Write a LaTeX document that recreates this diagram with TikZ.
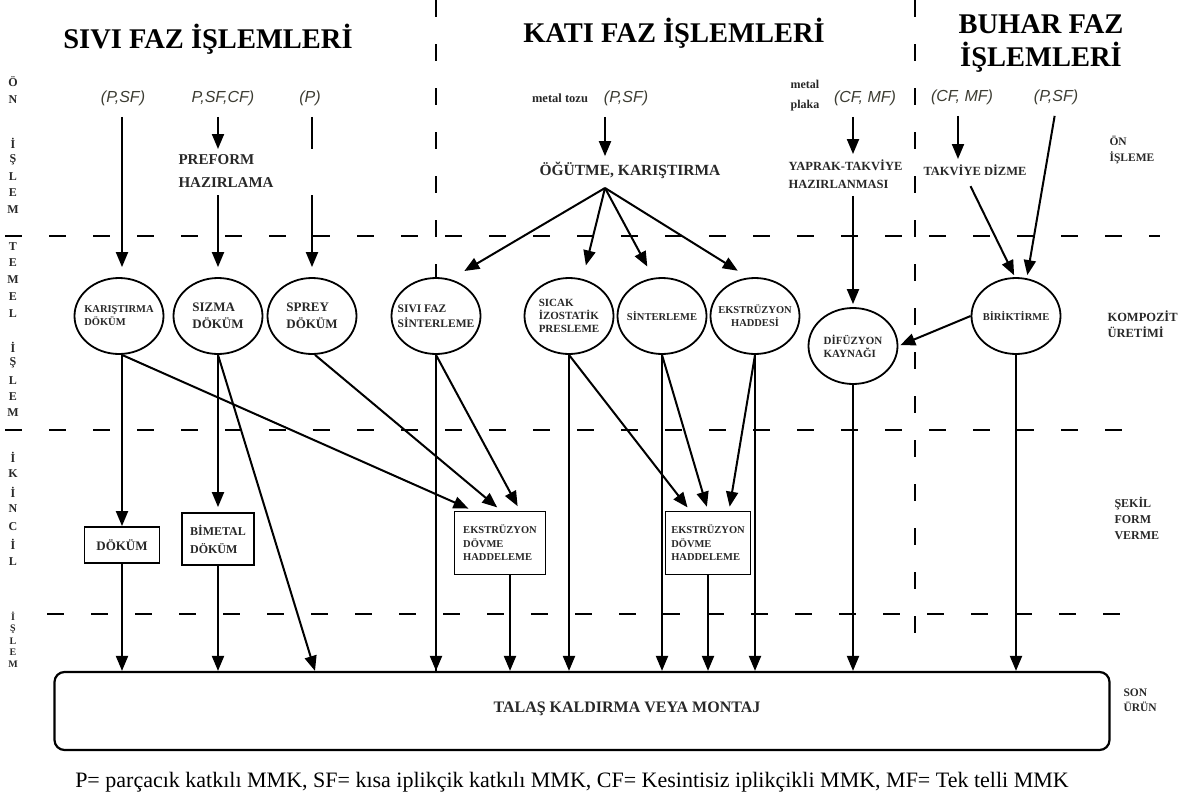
\documentclass[tikz,border=0pt]{standalone}
\usepackage{fontspec}
\setmainfont{Liberation Serif}
\newfontfamily\lblfont{Liberation Sans}
\usetikzlibrary{arrows.meta,shapes.geometric}

\definecolor{lblgray}{RGB}{60,60,50}
\definecolor{txtgray}{RGB}{40,40,40}
\newcommand{\fsz}[2]{\fontsize{#1}{#2}\selectfont}

\tikzset{
  arr/.style={line width=2pt, -{Triangle[length=15pt,width=12pt]}},
  link/.style={line width=2pt},
  sep/.style={line width=2pt, dash pattern=on 17pt off 27pt},
  proc/.style={ellipse, draw, fill=white, line width=1.8pt, minimum width=89pt, minimum height=76pt,
    inner xsep=-30pt, inner ysep=-14pt, align=left, text=txtgray},
  stage/.style={draw, fill=white, line width=1.8pt, align=left, inner sep=2pt, text=txtgray},
  lbl/.style={font=\lblfont\itshape\fsz{16}{18}, text=lblgray},
  side/.style={font=\bfseries\fsz{12}{12}, text=txtgray},
  head/.style={font=\bfseries\fsz{28.5}{33}, align=center},
  note/.style={font=\bfseries\fsz{12.5}{17}, align=left, text=txtgray},
}

\begin{document}
\begin{tikzpicture}[x=1pt, y=-1pt]
\useasboundingbox (0,0) rectangle (1194,798);

% stage borders
\draw[sep] (5,236) -- (1160,236);
\draw[sep] (5,430) -- (1145,430);
\draw[sep] (47,614) -- (1145,614);
\draw[sep] (436,0) -- (436,672);
\draw[sep] (915,0) -- (915,652);

% headings
\node[head] (hsivi) at (208,39) {SIVI FAZ İŞLEMLERİ};
\node[head] (hkati) at (674,33) {KATI FAZ İŞLEMLERİ};
\node[head] (hbuhar) at (1041,44) {BUHAR FAZ\\İŞLEMLERİ};

% letters on the left
\foreach \ch/\yy in {Ö/82,N/100,İ/143,Ş/160,L/177,E/193,M/210,
    T/247,E/263,M/280,E/297,L/314,İ/347,Ş/363,L/381,E/397,M/413,
    İ/457,K/474,İ/492,N/509,C/527,İ/544,L/562}
  \node[side] (s\yy) at (13,\yy) {\ch};
\foreach \ch/\yy in {İ/616,Ş/629,L/641,E/652,M/664}
  \node[side, font=\bfseries\fsz{10}{10}] (s\yy) at (13,\yy) {\ch};

% stage names on the right
\node[note, anchor=west, font=\bfseries\fsz{11.5}{16}] (onis) at (1106,150) {ÖN\\İŞLEME};
\node[note, anchor=west, font=\bfseries\fsz{12.5}{16}] (komp) at (1104,324) {KOMPOZİT\\ÜRETİMİ};
\node[note, anchor=west, font=\bfseries\fsz{12}{16}] (sekil) at (1111,518) {ŞEKİL\\FORM\\VERME};
\node[note, anchor=west, font=\bfseries\fsz{11.5}{15}] (son) at (1120,700) {SON\\ÜRÜN};

% reinforcement types
\node[lbl] (t1) at (123,98) {(P,SF)};
\node[lbl] (t2) at (223,98) {P,SF,CF)};
\node[lbl] (t3) at (310,98) {(P)};
\node[note, font=\bfseries\fsz{12.5}{14}] (mt) at (560,98) {metal tozu};
\node[lbl] (t4) at (626,98) {(P,SF)};
\node[note, font=\bfseries\fsz{12}{20}] (mp) at (805,96) {metal\\plaka};
\node[lbl] (t5) at (865,98) {(CF, MF)};
\node[lbl] (t6) at (962,97) {(CF, MF)};
\node[lbl] (t7) at (1056,97) {(P,SF)};

% pre-processing
\node[note, anchor=west, font=\bfseries\fsz{15}{23}] (pf) at (175,171) {PREFORM\\HAZIRLAMA};
\node[note, font=\bfseries\fsz{15.5}{18}] (og) at (630,170) {ÖĞÜTME, KARIŞTIRMA};
\node[note, anchor=west, font=\bfseries\fsz{12.5}{18}] (yp) at (785,174) {YAPRAK-TAKVİYE\\HAZIRLANMASI};
\node[note, font=\bfseries\fsz{12.5}{15}] (td) at (975,170) {TAKVİYE DİZME};
\coordinate (fan) at (605,188);

% main processes
\node[proc, font=\bfseries\fsz{10.5}{13}] (k1) at (119,316) {KARIŞTIRMA\\DÖKÜM};
\node[proc, font=\bfseries\fsz{13}{17}] (k2) at (218,316) {SIZMA\\DÖKÜM};
\node[proc, font=\bfseries\fsz{13}{17}] (k3) at (312,316) {SPREY\\DÖKÜM};
\node[proc, font=\bfseries\fsz{11.5}{15}] (k4) at (436,316) {SIVI FAZ\\SİNTERLEME};
\node[proc, font=\bfseries\fsz{11}{13}] (k5) at (569,316) {SICAK\\İZOSTATİK\\PRESLEME};
\node[proc, font=\bfseries\fsz{10.5}{13}] (k6) at (662,316) {SİNTERLEME};
\node[proc, font=\bfseries\fsz{10.5}{13}, align=center] (k7) at (755,316) {EKSTRÜZYON\\HADDESİ};
\node[proc, font=\bfseries\fsz{11}{13}] (k8) at (853,346) {DİFÜZYON\\KAYNAĞI};
\node[proc, font=\bfseries\fsz{10.5}{13}] (k9) at (1016,316) {BİRİKTİRME};

% secondary processes
\node[stage, font=\bfseries\fsz{13}{15}, minimum width=75pt, minimum height=36pt] (b1) at (122,545) {DÖKÜM};
\node[stage, font=\bfseries\fsz{12}{18}, minimum width=72pt, minimum height=52pt] (b2) at (218,539) {BİMETAL\\DÖKÜM};
\node[stage, font=\bfseries\fsz{10.5}{13.5}, minimum width=91pt, minimum height=63pt] (b3) at (500,543) {EKSTRÜZYON\\DÖVME\\HADDELEME};
\node[stage, font=\bfseries\fsz{10.5}{13.5}, minimum width=85pt, minimum height=63pt] (b4) at (708,543) {EKSTRÜZYON\\DÖVME\\HADDELEME};

% final product
\node[draw, line width=2.2pt, rounded corners=10pt, minimum width=1055pt, minimum height=78pt] (fin) at (582,711) {};
\node[font=\bfseries\fsz{16}{18}, text=txtgray] (tk) at (627,709) {TALAŞ KALDIRMA VEYA MONTAJ};
\node[font=\fsz{22}{24}] (leg) at (572,782) {P= parçacık katkılı MMK, SF= kısa iplikçik katkılı MMK, CF= Kesintisiz iplikçikli MMK, MF= Tek telli MMK};

% liquid phase
\draw[arr, shorten <=8pt, shorten >=10pt] (b1 |- t1.south) -- (b1 |- k1.north);
\draw[arr, shorten <=8pt, shorten >=2pt] (k2 |- t2.south) -- (k2 |- pf.north);
\draw[arr, shorten <=4pt, shorten >=10pt] (k2 |- pf.south) -- (k2.north);
\draw[link, shorten <=8pt, shorten >=2pt] (k3 |- t3.south) -- (k3 |- pf.north);
\draw[arr, shorten <=4pt, shorten >=10pt] (k3 |- pf.south) -- (k3.north);

% solid phase
\draw[arr, shorten <=8pt, shorten >=2pt] (fan |- t4.south) -- (fan |- og.north);
\draw[arr, shorten >=12pt] (fan) -- ([xshift=18pt]k4.north);
\draw[arr, shorten >=12pt] (fan) -- ([xshift=14pt]k5.north);
\draw[arr, shorten >=12pt] (fan) -- ([xshift=-9pt]k6.north);
\draw[arr, shorten >=12pt] (fan) -- ([xshift=-7pt]k7.north);
\draw[arr, shorten <=8pt, shorten >=2pt] (k8 |- t5.south) -- (k8 |- yp.north);
\draw[arr, shorten <=4pt, shorten >=3pt] (k8 |- yp.south) -- (k8.north);

% vapour phase
\draw[arr, shorten <=8pt, shorten >=2pt] ([xshift=-4pt]t6.south) -- ([xshift=-4pt]t6 |- td.north);
\draw[arr, shorten <=8pt, shorten >=2pt] ([xshift=-8pt]td.south) -- ([xshift=-1pt]k9.north);
\draw[arr, shorten <=8pt, shorten >=2pt] (t7.south) -- ([xshift=11pt]k9.north);
\draw[arr, shorten >=2pt] (k9.west) -- (k8.east);

% to secondary processes
\draw[arr] (b1 |- k1.south) -- (b1.north);
\draw[arr, shorten >=5pt] (b1 |- k1.south) -- ([xshift=-27pt]b3.north);
\draw[arr, shorten >=5pt] (k2.south) -- (b2.north);
\draw[arr] (k2.south) -- ([xshift=3pt]k3.south |- fin.north);
\draw[arr, shorten >=5pt] ([xshift=3pt]k3.south) -- ([xshift=1pt]b3.north);
\draw[arr, shorten >=5pt] (k4.south) -- ([xshift=20pt]b3.north);
\draw[arr, shorten >=4pt] (k5.south) -- ([xshift=-18pt]b4.north);
\draw[arr, shorten >=4pt] (k6.south) -- (b4.north);
\draw[arr, shorten >=4pt] (k7.south) -- ([xshift=21pt]b4.north);

% to final product
\foreach \src in {b1,b2,k4,k5,k6,k7,k8,k9}
  \draw[arr] (\src.south) -- (\src.south |- fin.north);
\draw[arr] ([xshift=10pt]b3.south) -- ([xshift=10pt]b3.south |- fin.north);
\draw[arr] (b4.south) -- (b4.south |- fin.north);
\end{tikzpicture}
\end{document}
